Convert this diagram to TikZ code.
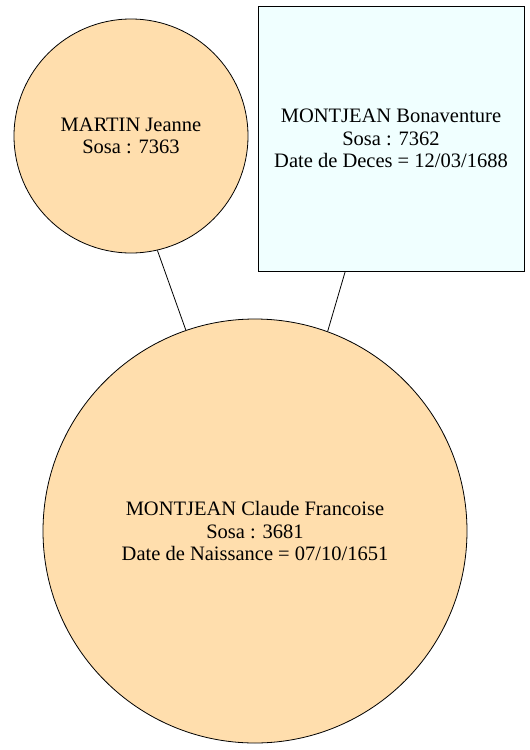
\documentclass[tikz,border=0pt]{standalone}
\usepackage{fontspec}
\setmainfont{Liberation Serif}
\definecolor{peach}{HTML}{FFDEAD}
\definecolor{azurebg}{HTML}{F0FFFF}
\begin{document}
\begin{tikzpicture}[x=1pt,y=-1pt,
  every node/.style={font=\fontsize{20.5}{22.5}\selectfont, align=center, draw=black, line width=0.8pt, inner sep=0pt},
  person/.style={circle, fill=peach},
  personbox/.style={rectangle, fill=azurebg},
  link/.style={draw=black, line width=0.8pt}]
\useasboundingbox (0,0) rectangle (530,750);
\node[person, minimum size=234] (jeanne) at (131,136) {MARTIN Jeanne\\Sosa : 7363};
\node[personbox, minimum width=266, minimum height=265] (bona) at (391,138.5) {MONTJEAN Bonaventure\\Sosa : 7362\\Date de Deces = 12/03/1688};
\node[person, minimum size=424] (claude) at (255,531) {MONTJEAN Claude Francoise\\Sosa : 3681\\Date de Naissance = 07/10/1651};
\draw[link] (jeanne.-77) -- (claude.109);
\draw[link] (bona.-109) -- (claude.70.7);
\end{tikzpicture}
\end{document}
